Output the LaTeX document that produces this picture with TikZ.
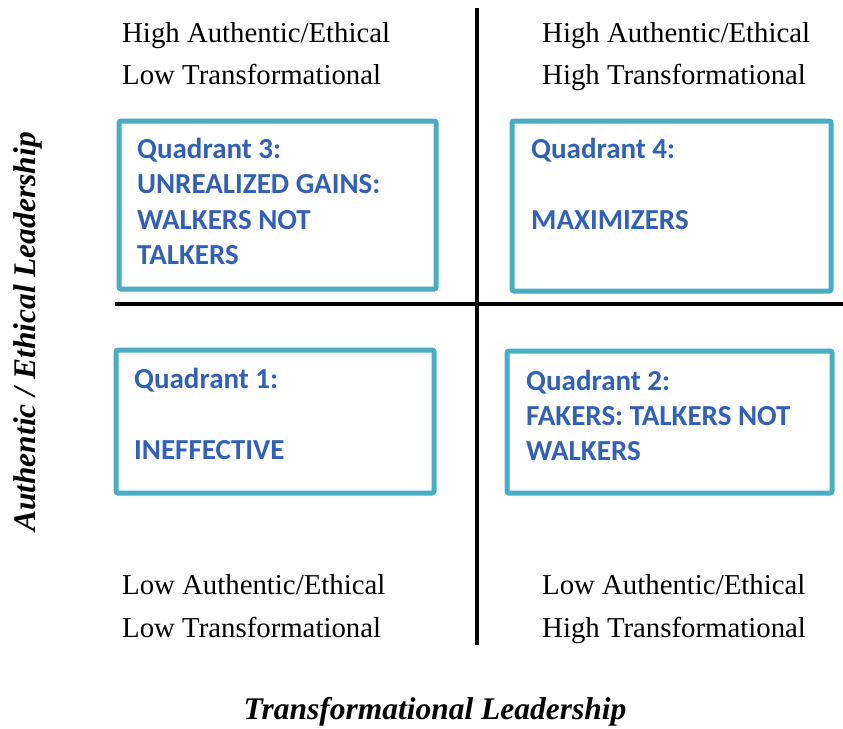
\documentclass[tikz,border=0pt]{standalone}
\usepackage{fontspec}
\setmainfont{Liberation Serif}
\newfontfamily\qfont{Carlito}
\definecolor{qblue}{RGB}{50,96,182}
\definecolor{qframe}{RGB}{75,172,198}
\begin{document}
\begin{tikzpicture}[x=1pt,y=-1pt,
  corner/.style={anchor=base west,inner sep=0pt,font=\fontsize{28.8}{34}\selectfont},
  qtext/.style={anchor=base west,inner sep=0pt,text=qblue,font=\qfont\bfseries\fontsize{29}{34}\selectfont},
  qbox/.style={draw=qframe,line width=5pt,rounded corners=2pt,inner sep=0pt,outer sep=0pt},
  axis/.style={line width=4pt,black},
  axlabel/.style={inner sep=0pt,font=\bfseries\itshape\fontsize{31.5}{36}\selectfont}]
\useasboundingbox (0,0) rectangle (843,728);
% axes
\coordinate (vt) at (477,8);
\coordinate (vb) at (477,645);
\coordinate (hl) at (115,304);
\coordinate (hr) at (843,304);
\draw[axis] (vt) -- (vb);
\draw[axis] (hl) -- (hr);
% corner labels
\node[corner] (tl1) at (122,42) {High Authentic/Ethical};
\node[corner] (tl2) at (122,84) {Low Transformational};
\node[corner] (tr1) at (542,42) {High Authentic/Ethical};
\node[corner] (tr2) at (542,84) {High Transformational};
\node[corner] (bl1) at (122,594) {Low Authentic/Ethical};
\node[corner] (bl2) at (122,637) {Low Transformational};
\node[corner] (br1) at (542,594) {Low Authentic/Ethical};
\node[corner] (br2) at (542,637) {High Transformational};
% boxes
\node[qbox,minimum width=317pt,minimum height=168pt] (b3) at (277.5,205) {};
\node[qbox,minimum width=319pt,minimum height=170pt] (b4) at (671.5,206) {};
\node[qbox,minimum width=318pt,minimum height=143pt] (b1) at (275,421.5) {};
\node[qbox,minimum width=325pt,minimum height=142pt] (b2) at (669.5,422) {};
% box texts
\node[qtext] (q3a) at (137,158) {Quadrant 3:};
\node[qtext] (q3b) at (137,193.5) {UNREALIZED GAINS:};
\node[qtext] (q3c) at (137,229) {WALKERS NOT};
\node[qtext] (q3d) at (137,264.5) {TALKERS};
\node[qtext] (q4a) at (531,158) {Quadrant 4:};
\node[qtext] (q4b) at (531,229) {MAXIMIZERS};
\node[qtext] (q1a) at (134,388) {Quadrant 1:};
\node[qtext] (q1b) at (134,459) {INEFFECTIVE};
\node[qtext] (q2a) at (526,390) {Quadrant 2:};
\node[qtext] (q2b) at (526,425) {FAKERS: TALKERS NOT};
\node[qtext] (q2c) at (526,460) {WALKERS};
% axis labels
\node[axlabel,rotate=90] (ylab) at (28,332) {Authentic / Ethical Leadership};
\node[axlabel,anchor=base] (xlab) at (435,719) {Transformational Leadership};
\end{tikzpicture}
\end{document}
